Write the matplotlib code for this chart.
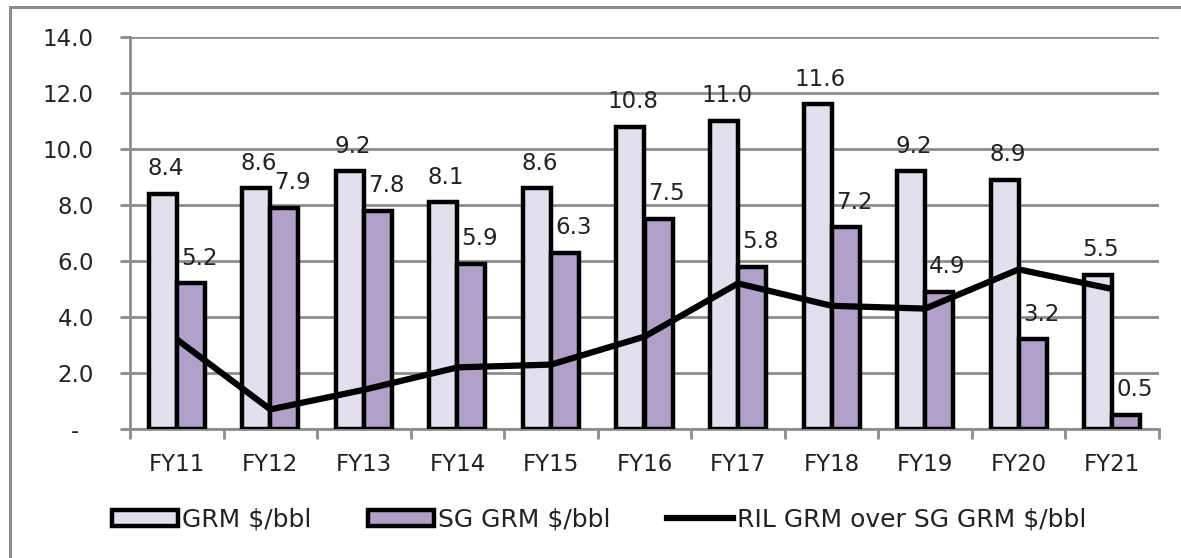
import matplotlib
matplotlib.use("Agg")
import matplotlib.pyplot as plt
import numpy as np
from matplotlib.patches import Rectangle, Patch
from matplotlib.lines import Line2D

categories = ["FY11", "FY12", "FY13", "FY14", "FY15", "FY16", "FY17", "FY18", "FY19", "FY20", "FY21"]
grm = [8.4, 8.6, 9.2, 8.1, 8.6, 10.8, 11.0, 11.6, 9.2, 8.9, 5.5]
sg_grm = [5.2, 7.9, 7.8, 5.9, 6.3, 7.5, 5.8, 7.2, 4.9, 3.2, 0.5]
ril_over_sg = [3.2, 0.7, 1.4, 2.2, 2.3, 3.3, 5.2, 4.4, 4.3, 5.7, 5.0]
y_ticks = [0, 2, 4, 6, 8, 10, 12, 14]

GRM_COLOR = "#e4dfec"
SG_COLOR = "#b1a0c7"
GRID = "#8c8c8c"
TEXT = "#222222"

W, H = 1181, 558
fig = plt.figure(figsize=(W / 100, H / 100), dpi=100)
fig.patch.set_facecolor("white")

# outer chart frame
fig.add_artist(Rectangle((10 / W, -0.1), 1.2, 1 - 7 / H + 0.1, transform=fig.transFigure,
                         fill=False, edgecolor=GRID, linewidth=2.2))

ax = fig.add_axes([130 / W, 1 - 429 / H, (1159 - 130) / W, (429 - 37) / H])
x = np.arange(len(categories))
bw = 0.30

ax.bar(x - bw / 2, grm, width=bw, color=GRM_COLOR, edgecolor="black", linewidth=3.2, zorder=3,
       label="GRM $/bbl")
ax.bar(x + bw / 2, sg_grm, width=bw, color=SG_COLOR, edgecolor="black", linewidth=3.2, zorder=3,
       label="SG GRM $/bbl")
ax.plot(x, ril_over_sg, color="black", linewidth=4.5, zorder=4, solid_capstyle="butt",
        label="RIL GRM over SG GRM $/bbl")

# value labels
for xi, v in zip(x, grm):
    ax.annotate(f"{v:.1f}", (xi - bw / 2, v), xytext=(2, 18), textcoords="offset points",
                ha="center", va="center", fontsize=16.5, color=TEXT, zorder=2)
for xi, v in zip(x, sg_grm):
    ax.annotate(f"{v:.1f}", (xi + bw / 2, v), xytext=(6, 18), textcoords="offset points",
                ha="center", va="center", fontsize=16.5, color=TEXT, zorder=2)

ax.set_xlim(-0.5, len(categories) - 0.5)
ax.set_ylim(0, 14)
ax.set_yticks(y_ticks)
ax.set_yticklabels([f"{v:.1f}" if v else "-  " for v in y_ticks])
ax.yaxis.grid(True, color=GRID, linewidth=2, zorder=0)
ax.set_axisbelow(True)

ax.set_xticks(np.arange(len(categories) + 1) - 0.5)
ax.set_xticklabels([])
ax.set_xticks(x, minor=True)
ax.set_xticklabels(categories, minor=True)
ax.tick_params(axis="x", which="major", length=7, width=2, color=GRID, direction="out")
ax.tick_params(axis="x", which="minor", length=0, pad=17, labelsize=16.5, labelcolor=TEXT)
ax.tick_params(axis="y", length=7, width=2, color=GRID, pad=19, labelsize=16.5, labelcolor=TEXT)

for side in ("top", "right"):
    ax.spines[side].set_visible(False)
for side in ("left", "bottom"):
    ax.spines[side].set_color(GRID)
    ax.spines[side].set_linewidth(2)

handles = [
    Patch(facecolor=GRM_COLOR, edgecolor="black", linewidth=3.2),
    Patch(facecolor=SG_COLOR, edgecolor="black", linewidth=3.2),
    Line2D([0], [0], color="black", linewidth=4.5),
]
labels = ["GRM $/bbl", "SG GRM $/bbl", "RIL GRM over SG GRM $/bbl"]
fig.legend(handles, labels, loc="center left", bbox_to_anchor=(112 / W, 1 - 520 / H), ncol=3,
           frameon=False, handlelength=2.64, handleheight=0.64, handletextpad=0.18,
           columnspacing=2.24, borderaxespad=0, borderpad=0,
           prop={"size": 18})
for t in fig.legends[0].get_texts():
    t.set_color(TEXT)

fig.savefig("out.png", dpi=100, facecolor="white")
